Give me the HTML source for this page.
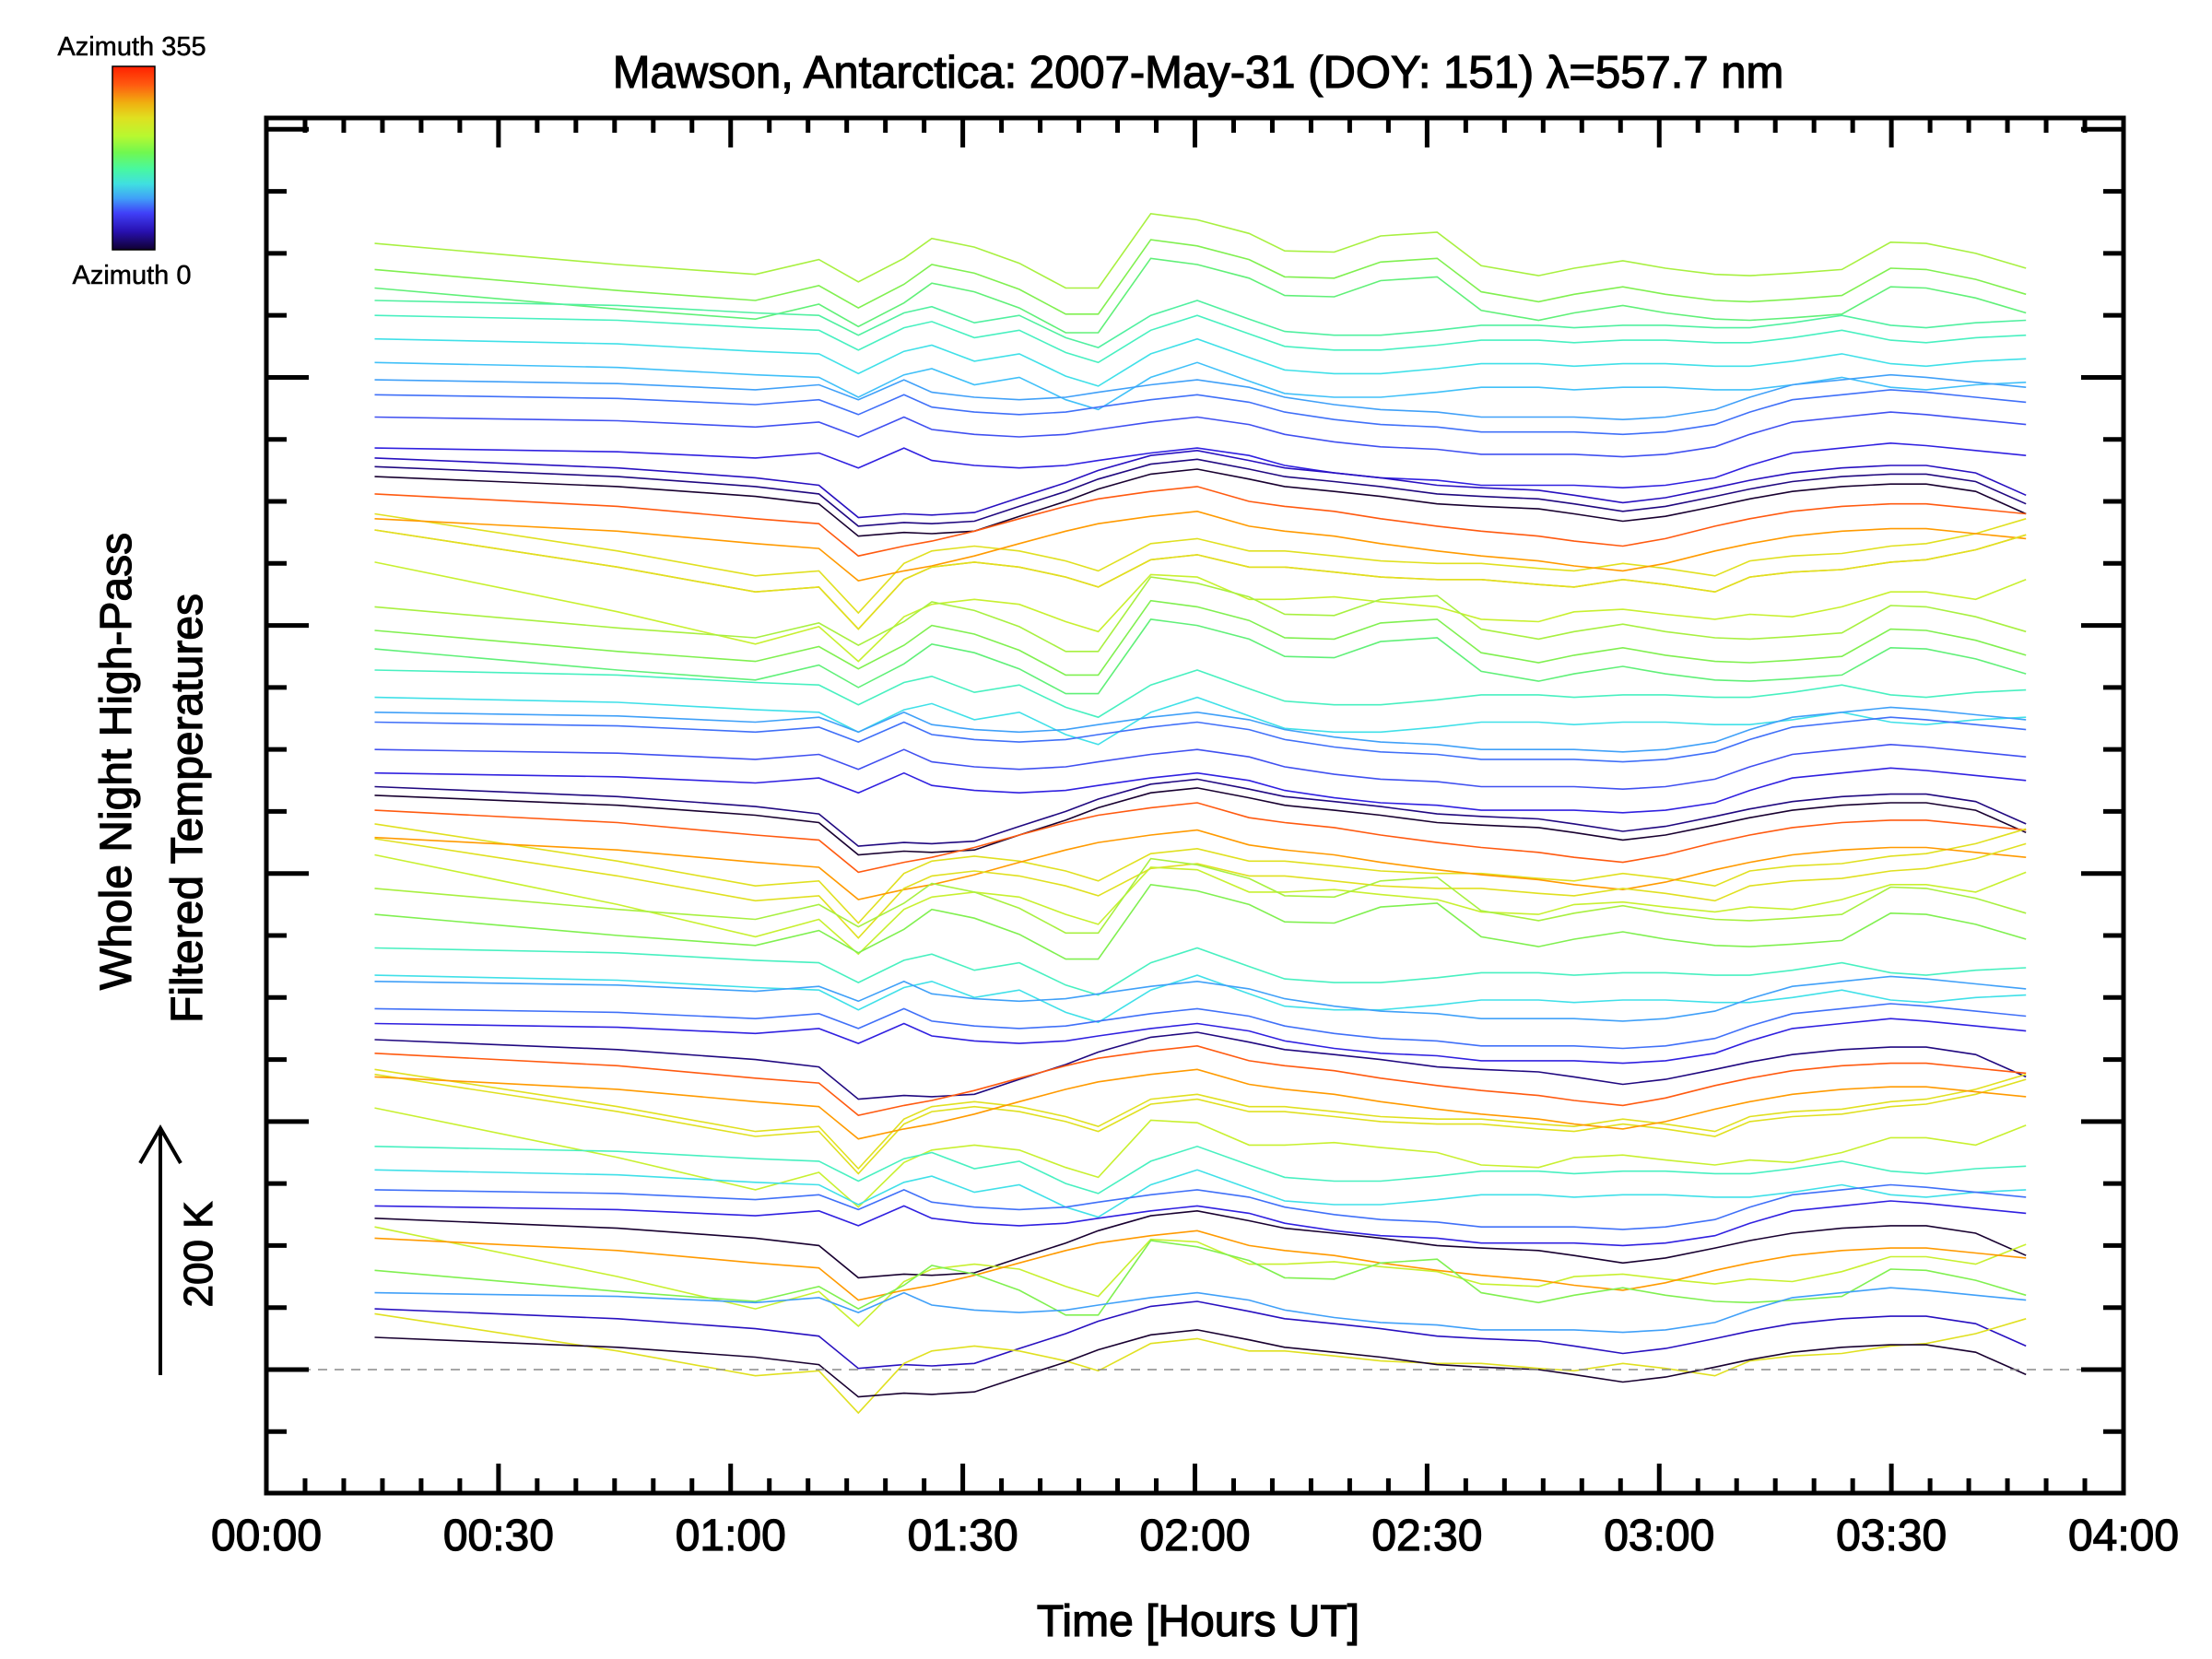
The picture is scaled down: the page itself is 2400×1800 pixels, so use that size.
<!DOCTYPE html>
<html><head><meta charset="utf-8">
<style>
html,body{margin:0;padding:0;background:#fff;}
svg{display:block;}
text{font-family:"Liberation Sans","DejaVu Sans",sans-serif;fill:#000;stroke:#000;stroke-width:1.2;}
</style></head>
<body>
<svg id="chart" width="2400" height="1800" viewBox="0 0 2400 1800" xmlns="http://www.w3.org/2000/svg">
<defs>
<linearGradient id="cbar" x1="0" y1="0" x2="0" y2="1">
<stop offset="0" stop-color="#ff2000"/><stop offset="0.1" stop-color="#ff5a10"/>
<stop offset="0.2" stop-color="#f0b010"/><stop offset="0.28" stop-color="#e0e020"/>
<stop offset="0.38" stop-color="#b8f830"/><stop offset="0.47" stop-color="#70f850"/>
<stop offset="0.56" stop-color="#48f8a0"/><stop offset="0.64" stop-color="#40e0e0"/>
<stop offset="0.72" stop-color="#40a0f8"/><stop offset="0.8" stop-color="#4040f8"/>
<stop offset="0.9" stop-color="#2810b0"/><stop offset="1" stop-color="#100030"/>
</linearGradient>
</defs>
<g id="lines"></g>
<line x1="291" y1="1486" x2="2302" y2="1486" stroke="#888" stroke-width="1.5" stroke-dasharray="10,8"/>
<g id="axes"></g>
<text x="1300" y="95" font-size="49" text-anchor="middle">Mawson, Antarctica: 2007-May-31 (DOY: 151) λ=557.7 nm</text>
<text x="1300" y="1775" font-size="48" text-anchor="middle">Time [Hours UT]</text>
<text transform="translate(142,826) rotate(-90)" font-size="48" text-anchor="middle">Whole Night High-Pass</text>
<text transform="translate(219,877) rotate(-90)" font-size="48" text-anchor="middle">Filtered Temperatures</text>
<g>
<line x1="174" y1="1492" x2="174" y2="1226" stroke="#000" stroke-width="4"/>
<polyline points="152,1262 174,1224 196,1262" fill="none" stroke="#000" stroke-width="4"/>
</g>
<text transform="translate(230,1361) rotate(-90)" font-size="44" text-anchor="middle">200 K</text>
<g>
<rect x="122" y="72" width="46" height="199" fill="url(#cbar)" stroke="#000" stroke-width="1.5"/>
</g>
<text x="143" y="60" font-size="29" text-anchor="middle" style="stroke-width:0.5">Azimuth 355</text>
<text x="143" y="308" font-size="29" text-anchor="middle" style="stroke-width:0.5">Azimuth 0</text>
</svg>
<script>
// time of each sample (minutes UT)
const times=[14,45.4,63.2,71.4,76.5,82.4,86,91.5,97.3,103.3,107.5,114.3,120.3,127,131.6,138,144,151.3,157,164.4,169,175.3,180.8,187.2,191.7,197.2,203.6,209.9,214.5,220.9,227.4];
// temperature-change profiles (negative K = cooler, drawn downward)
const profA=[0,-17,-25,-13,-31,-12,4,-3,-16,-36,-36,24,19,8,-6,-7,6,9,-18,-26,-20,-14,-20,-25,-26,-24,-21,1,0,-8,-20];
const profB=[0,-4,-10,-12,-28,-10,-5,-18,-12,-30,-38,-12,0,-15,-25,-28,-28,-24,-20,-20,-22,-20,-20,-22,-22,-18,-12,-20,-22,-18,-16];
const profC=[0,-3,-8,-4,-16,0,-10,-14,-16,-14,-10,-4,0,-6,-14,-20,-24,-26,-30,-30,-30,-32,-30,-24,-14,-4,0,4,2,-2,-6];
const profD=[0,-8,-16,-22,-48,-45,-46,-44,-32,-20,-10,2,6,-2,-8,-12,-16,-22,-24,-26,-30,-36,-32,-24,-18,-12,-8,-6,-6,-12,-30];
const profE=[0,-10,-20,-24,-50,-42,-38,-30,-20,-10,-4,2,6,-6,-10,-14,-20,-26,-30,-34,-38,-42,-36,-26,-20,-14,-10,-8,-8,-12,-16];
const profF=[0,-30,-50,-46,-80,-40,-30,-26,-30,-38,-46,-24,-20,-30,-30,-34,-38,-40,-40,-44,-46,-40,-44,-50,-38,-34,-32,-26,-24,-16,-4];
const profG=[0,-40,-66,-52,-80,-44,-34,-30,-34,-48,-56,-10,-12,-30,-30,-28,-32,-36,-46,-48,-40,-38,-42,-46,-42,-44,-36,-24,-24,-30,-14];
// starting level of each azimuth trace (K above baseline)
const levels=[908,887,872,862,850,831,812,798,786,768,743,735,728,720,706,690,686,677,677,651,615,596,581,564,542,530,522,500,481,470,463,451,440,429,428,415,388,367,340,318,313,291,279,266,255,242,238,236,211,180,161,145,132,122,115,106,80,62,49,45,26];
// azimuth colour class of each trace
const classes=["yg","g","g2","gc","cg","c","sky","lb","b","b2","v","i","di","dk","or","y","o","oy","y","yg2","yg","g","g2","cg","c","lb","b","b2","v","di","dk","or","y","o","y","yg2","yg","g","cg","c","lb","b","v","di","or","y","y","o","yg2","cg","c","b","v","dk","yg2","o","g","lb","i","y","dk"];
const xTickLabels=["00:00","00:30","01:00","01:30","02:00","02:30","03:00","03:30","04:00"];

const colors={yg:"#a8f040",g:"#80f050",g2:"#60f078",gc:"#50f0a0",cg:"#48f0c0",c:"#40e0e8",sky:"#40c0f8",lb:"#40a0f8",b:"#4070f8",b2:"#4050f0",v:"#3020e0",i:"#2810c0",di:"#200880",dk:"#180030",or:"#ff5a10",y:"#e0e020",o:"#ff9a00",oy:"#f0b810",yg2:"#c8f030"};
const profOf={yg:profA,g:profA,g2:profA,gc:profB,cg:profB,c:profB,sky:profB,lb:profC,b:profC,b2:profC,v:profC,i:profD,di:profD,dk:profD,or:profE,o:profE,y:profF,oy:profF,yg2:profG};

const X0=289,X1=2304,T0=0,T1=240;
const Y0=1486,PXK=1.3457;
function xs(t){return X0+(t-T0)/(T1-T0)*(X1-X0);}
function ys(k){return Y0-k*PXK;}

const NS="http://www.w3.org/2000/svg";
const lg=document.getElementById('lines');
levels.forEach((lv,i)=>{
  const cl=classes[i];const pr=profOf[cl];
  const pts=times.map((t,j)=>xs(t).toFixed(1)+","+ys(lv+pr[j]).toFixed(1)).join(" ");
  const p=document.createElementNS(NS,'polyline');
  p.setAttribute('points',pts);
  p.setAttribute('fill','none');
  p.setAttribute('stroke',colors[cl]);
  p.setAttribute('stroke-width','1.6');
  
  
  lg.appendChild(p);
});

const ax=document.getElementById('axes');
function ln(x1,y1,x2,y2,w,name){
  const l=document.createElementNS(NS,'line');
  l.setAttribute('x1',x1);l.setAttribute('y1',y1);l.setAttribute('x2',x2);l.setAttribute('y2',y2);
  l.setAttribute('stroke','#000');l.setAttribute('stroke-width',w);
  
  
  ax.appendChild(l);
}
const TOP=128,BOT=1620;
const fr=document.createElementNS(NS,'rect');
fr.setAttribute('x',X0);fr.setAttribute('y',TOP);fr.setAttribute('width',X1-X0);fr.setAttribute('height',BOT-TOP);
fr.setAttribute('fill','none');fr.setAttribute('stroke','#000');fr.setAttribute('stroke-width','5');


ax.appendChild(fr);
// x ticks every 5 minutes, major every 30
for(let m=5;m<240;m+=5){
  const x=xs(m);const L=(m%30===0)?32:16;
  ln(x,BOT,x,BOT-L,5,'x-tick');
  ln(x,TOP,x,TOP+L,5,'x-tick-top');
}
xTickLabels.forEach((s,i)=>{
  const t=document.createElementNS(NS,'text');
  t.setAttribute('x',xs(i*30));t.setAttribute('y',1682);
  t.setAttribute('font-size','48');t.setAttribute('text-anchor','middle');
  
  
  t.textContent=s;ax.appendChild(t);
});
// y ticks every 50 K, major every 200 K
for(let k=-50;k<=1000;k+=50){
  const y=ys(k);if(y<TOP+4||y>BOT-4)continue;
  const L=(k%200===0)?46:22;
  ln(X0,y,X0+L,y,5,'y-tick');
  ln(X1,y,X1-L,y,5,'y-tick-right');
}
</script>
</body></html>
